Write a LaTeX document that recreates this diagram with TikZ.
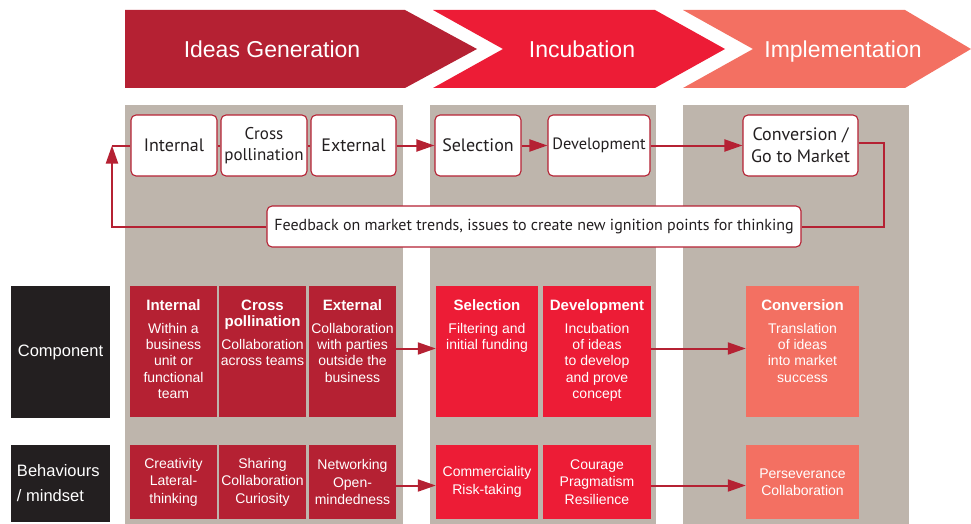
\documentclass[tikz,border=0pt]{standalone}
\usepackage{fontspec}
\setmainfont{Liberation Sans}
\newfontfamily\hv{Liberation Sans}
\newfontfamily\my{PT Sans}
\usetikzlibrary{arrows.meta}
\definecolor{cdark}{RGB}{181,33,51}
\definecolor{cbright}{RGB}{237,28,54}
\definecolor{csalmon}{RGB}{243,112,98}
\definecolor{cgray}{RGB}{190,181,172}
\definecolor{cblack}{RGB}{35,31,32}
\tikzset{
  chev/.style={fill=#1, draw=none},
  chevtxt/.style={text=white, font=\hv\fontsize{23}{27}\selectfont, inner sep=0pt, anchor=base},
  topbox/.style={draw=cdark, line width=1.1pt, fill=white, rounded corners=5pt, inner sep=1pt,
    text=cblack, align=center, font=\my\fontsize{18}{22}\selectfont, minimum height=61pt},
  fbbox/.style={draw=cdark, line width=1.1pt, fill=white, rounded corners=5pt, inner sep=2pt,
    text=cblack, font=\my\fontsize{16}{18}\selectfont, minimum height=41pt},
  conn/.style={draw=cdark, line width=2pt},
  arr/.style={conn, -{Triangle[length=18pt,width=12pt]}},
  cbox/.style={fill=#1, draw=none, minimum height=131pt, inner sep=0pt},
  bbox/.style={fill=#1, draw=none, minimum height=74pt, inner sep=0pt, text=white,
    align=center, font=\hv\fontsize{14}{17.5}\selectfont},
  ctxt/.style={text=white, align=center, font=\hv\fontsize{14}{16.3}\selectfont, inner sep=0pt, anchor=north},
  lbl/.style={fill=cblack, text=white, inner sep=0pt, align=left, font=\hv\fontsize{16.5}{25}\selectfont},
}
\newcommand{\ttl}[1]{{\fontsize{15}{17}\selectfont\bfseries #1}}
\begin{document}
\begin{tikzpicture}[x=1pt,y=-1pt]
\useasboundingbox (0,0) rectangle (971,524);
% chevrons
\fill[cdark] (125,10) -- (405,10) -- (477,49) -- (405,88) -- (125,88) -- cycle;
\fill[cbright] (433,10) -- (655,10) -- (725,49) -- (655,88) -- (433,88) -- (503,49) -- cycle;
\fill[csalmon] (683,10) -- (905,10) -- (971,49) -- (905,88) -- (683,88) -- (753,49) -- cycle;
\node[chevtxt] (h1) at (272,57.5) {Ideas Generation};
\node[chevtxt] (h2) at (582,57.5) {Incubation};
\node[chevtxt] (h3) at (843,57.5) {Implementation};
% gray panels
\fill[cgray] (125,105) rectangle (403,524);
\fill[cgray] (430,105) rectangle (656,524);
\fill[cgray] (683,105) rectangle (909,524);
% top row
\node[topbox, minimum width=86pt] (tint) at (174,145.5) {Internal};
\node[topbox, minimum width=86pt, font=\my\fontsize{17}{21}\selectfont] (tcross) at (264,145.5) {Cross\\pollination};
\node[topbox, minimum width=85pt] (text) at (353.5,145.5) {External};
\node[topbox, minimum width=86pt] (tsel) at (478,145.5) {Selection};
\node[topbox, minimum width=102pt, font=\my\fontsize{16.4}{19}\selectfont] (tdev) at (599,145.5) {Development};
\node[topbox, minimum width=115pt] (tconv) at (800.5,145.5) {Conversion /\\Go to Market};
\node[fbbox, minimum width=534pt] (fb) at (534,226.5) {Feedback on market trends, issues to create new ignition points for thinking};
\draw[conn] (tint) -- (tcross);
\draw[conn] (tcross) -- (text);
\draw[arr] (text) -- (tsel);
\draw[arr] (tsel) -- (tdev);
\draw[arr] (tdev) -- (tconv);
\coordinate (lp) at (112,145.5);
\draw[conn] ([yshift=3pt]tconv.east) -- ++(25,0) |- (fb.east);
\draw[arr] (fb.west) -| (lp);
\draw[conn] (lp) -- (tint.west);
% labels
\node[lbl, minimum width=99pt, minimum height=132pt, align=center] (lcomp) at (60.5,352) {Component};
\node[lbl, minimum width=99pt, minimum height=77pt] (lbeh) at (60.5,483.5) {\hspace*{1pt}\parbox{88pt}{\raggedright Behaviours\\/ mindset}};
% component row
\node[cbox=cdark, minimum width=87pt] (ci) at (173.5,351.5) {};
\node[cbox=cdark, minimum width=87pt] (cc) at (262.5,351.5) {};
\node[cbox=cdark, minimum width=87pt] (ce) at (352.5,351.5) {};
\node[cbox=cbright, minimum width=102pt] (cs) at (487,351.5) {};
\node[cbox=cbright, minimum width=108pt] (cd) at (597,351.5) {};
\node[cbox=csalmon, minimum width=113pt] (cv) at (802.5,351.5) {};
\node[ctxt] (cit) at ([yshift=-14pt]ci.north) {\ttl{Internal}\\[6pt]Within a\\business\\unit or\\functional\\team};
\node[ctxt] (cct) at ([yshift=-14pt]cc.north) {\ttl{Cross}\\\ttl{pollination}\\[6pt]Collaboration\\across teams};
\node[ctxt] (cet) at ([yshift=-14pt]ce.north) {\ttl{External}\\[6pt]Collaboration\\with parties\\outside the\\business};
\node[ctxt] (cst) at ([yshift=-14pt]cs.north) {\ttl{Selection}\\[6pt]Filtering and\\initial funding};
\node[ctxt] (cdt) at ([yshift=-14pt]cd.north) {\ttl{Development}\\[6pt]Incubation\\of ideas\\to develop\\and prove\\concept};
\node[ctxt] (cvt) at ([yshift=-14pt]cv.north) {\ttl{Conversion}\\[6pt]Translation\\of ideas\\into market\\success};
\draw[arr] ([yshift=3pt]ce.east) -- ([yshift=3pt]cs.west);
\draw[arr] ([yshift=3pt]cd.east) -- ([yshift=3pt]cv.west);
% behaviours row
\node[bbox=cdark, minimum width=87pt] (bi) at (173.5,482) {Creativity\\Lateral-\\thinking};
\node[bbox=cdark, minimum width=87pt] (bc) at (262.5,482) {Sharing\\Collaboration\\Curiosity};
\node[bbox=cdark, minimum width=87pt] (be) at (352.5,482) {Networking\\Open-\\mindedness};
\node[bbox=cbright, minimum width=102pt] (bs) at (487,482) {Commerciality\\Risk-taking};
\node[bbox=cbright, minimum width=108pt] (bd) at (597,482) {Courage\\Pragmatism\\Resilience};
\node[bbox=csalmon, minimum width=113pt] (bv) at (802.5,482) {Perseverance\\Collaboration};
\draw[arr] ([yshift=-3.5pt]be.east) -- ([yshift=-3.5pt]bs.west);
\draw[arr] ([yshift=-3.5pt]bd.east) -- ([yshift=-3.5pt]bv.west);
\end{tikzpicture}
\end{document}
